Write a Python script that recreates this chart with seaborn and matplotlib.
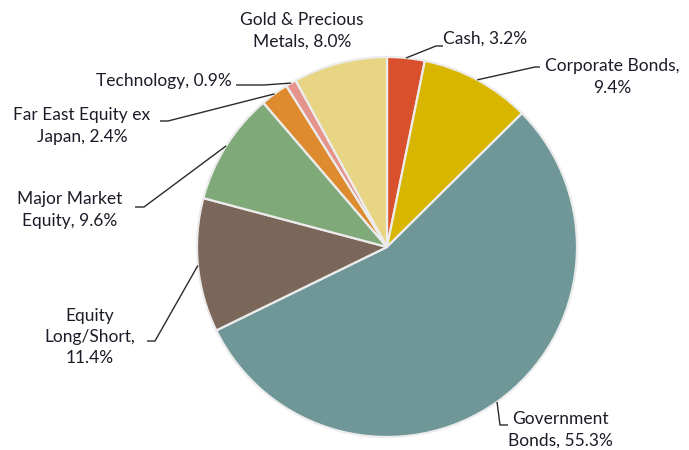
import numpy as np
import matplotlib
matplotlib.use("Agg")
import matplotlib.pyplot as plt
import seaborn as sns

# data (clockwise from 12 o'clock)
categories = ["Cash", "Corporate Bonds", "Government Bonds", "Equity Long/Short",
              "Major Market Equity", "Far East Equity ex Japan", "Technology",
              "Gold & Precious Metals"]
weights = [3.2, 9.4, 55.3, 11.4, 9.6, 2.4, 0.9, 8.0]
label_text = ["Cash, 3.2%", "Corporate Bonds,\n9.4%", "Government\nBonds, 55.3%",
              "Equity\nLong/Short,\n11.4%", "Major Market\nEquity, 9.6%",
              "Far East Equity ex\nJapan, 2.4%", "Technology, 0.9%",
              "Gold & Precious\nMetals, 8.0%"]
colors = ["#D8502C", "#D8B600", "#6F9797", "#7B675A", "#80A97A",
          "#DE8B2F", "#E5948C", "#E8D583"]

sns.set_theme(style="white")
plt.rcParams["font.family"] = ["Lato", "DejaVu Sans"]

W, H = 689, 450
CX, CY, R = 387, 247, 190


def px(x, y):
    # pixel position on the canvas -> data units of the pie (radius 1)
    return (x - CX) / R, (CY - y) / R


# label layout: text position, alignment, elbow and tail of leader (pixels)
layout = {
    "Cash": dict(txt=(443, 39), ha="left", pts=[(436, 46), (443, 46)]),
    "Corporate Bonds": dict(txt=(612, 77), ha="center", pts=[(535, 67), (540, 67)]),
    "Government Bonds": dict(txt=(508, 430), ha="left", pts=[(500, 425), (508, 425)]),
    "Equity Long/Short": dict(txt=(90, 337), ha="center", pts=[(155, 341), (147, 341)]),
    "Major Market Equity": dict(txt=(70, 210), ha="center", pts=[(144, 207), (135, 207)]),
    "Far East Equity ex Japan": dict(txt=(82, 126), ha="center", pts=[(168, 121), (160, 121)]),
    "Technology": dict(txt=(232, 81), ha="right", pts=[(264, 85), (236, 85)]),
    "Gold & Precious Metals": dict(txt=(302, 31), ha="center", pts=[]),
}

fig = plt.figure(figsize=(W / 100, H / 100), dpi=100)
ax = fig.add_axes([0, 0, 1, 1])
x0, y0 = px(0, H)
x1, y1 = px(W, 0)

wedges, _ = ax.pie(weights, colors=colors, startangle=90, counterclock=False,
                   radius=1.0, center=(0, 0), frame=True,
                   wedgeprops=dict(edgecolor="#ECECEC", linewidth=1.6))
ax.set_xlim(x0, x1)
ax.set_ylim(y0, y1)
ax.set_aspect("equal")
ax.axis("off")

for w, name, txt in zip(wedges, categories, label_text):
    spec = layout[name]
    mid = np.deg2rad((w.theta1 + w.theta2) / 2)
    anchor = (np.cos(mid), np.sin(mid))
    if spec["pts"]:
        path = [anchor] + [px(*p) for p in spec["pts"]]
        xs, ys = zip(*path)
        ax.plot(xs, ys, color="#2A2A2A", lw=1.0, solid_capstyle="butt")
    tx, ty = px(*spec["txt"])
    ax.text(tx, ty, txt, ha=spec["ha"], va="center", multialignment="center",
            fontsize=12.5, color="#1C1C28", linespacing=1.4)

fig.savefig("out.png", dpi=100)
